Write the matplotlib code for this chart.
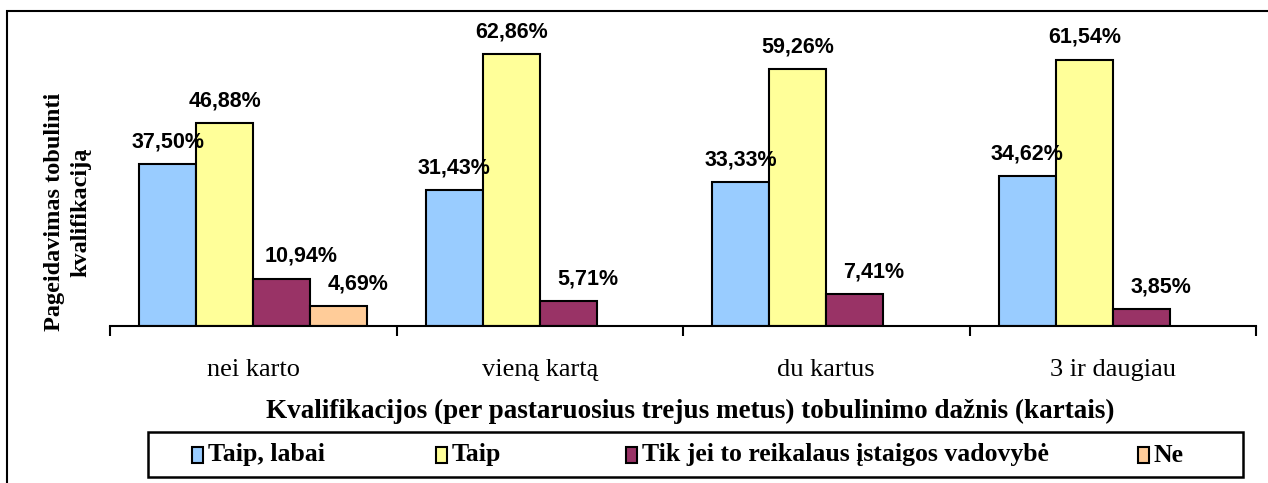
import numpy as np
import matplotlib.pyplot as plt
from matplotlib.patches import Rectangle

CATEGORIES = ["nei karto", "vieną kartą", "du kartus", "3 ir daugiau"]
SERIES = ["Taip, labai", "Taip", "Tik jei to reikalaus įstaigos vadovybė", "Ne"]
taip_labai = [37.50, 31.43, 33.33, 34.62]
taip = [46.88, 62.86, 59.26, 61.54]
tik_jei = [10.94, 5.71, 7.41, 3.85]
ne = [4.69, 0, 0, 0]

COLORS = ["#99CCFF", "#FFFF99", "#993366", "#FFCC99"]
SERIF = "Liberation Serif"
SANS = "Liberation Sans"

W, H = 1268, 483
fig = plt.figure(figsize=(W / 100, H / 100), dpi=100)
ax = fig.add_axes([110 / W, 1 - 326 / H, (1256 - 110) / W, (326 - 23) / H])

x = np.arange(len(CATEGORIES))
bw = 0.1986
values = [taip_labai, taip, tik_jei, ne]
label_dx = [0, 0, 14, 14]  # small-bar labels sit a bit to the right
for i, (name, vals, col) in enumerate(zip(SERIES, values, COLORS)):
    pos = x + (i - 1.5) * bw
    vals = np.array(vals, dtype=float)
    ax.bar(pos, np.where(vals > 0, vals, np.nan), width=bw, color=col,
           edgecolor="black", linewidth=1.5, label=name, zorder=2)
    for p, v in zip(pos, vals):
        if v <= 0:
            continue
        ax.annotate(f"{v:.2f}".replace(".", ",") + "%", (p, v),
                    xytext=(label_dx[i], 12), textcoords="offset points",
                    ha="center", va="baseline", fontsize=15.5,
                    fontweight="bold", family=SANS, zorder=5)

ax.set_xlim(-0.5, 3.5)
ax.set_ylim(0, 70)
for s in ["top", "right", "left"]:
    ax.spines[s].set_visible(False)
ax.spines["bottom"].set_linewidth(1.5)
ax.set_yticks([])
ax.set_xticks(np.arange(-0.5, 4, 1))
ax.set_xticklabels([])
ax.tick_params(axis="x", which="major", length=7, width=1.5, direction="out")
ax.set_xticks(x, minor=True)
ax.set_xticklabels(CATEGORIES, minor=True, family=SERIF, fontsize=19)
ax.tick_params(axis="x", which="minor", length=0, pad=24)

fig.text((268 + 1112) / 2 / W, 1 - 411 / H,
         "Kvalifikacijos (per pastaruosius trejus metus) tobulinimo dažnis (kartais)",
         ha="center", va="center", family=SERIF, fontsize=19.5, fontweight="bold")
fig.text(68 / W, 1 - 212 / H, "Pageidavimas tobulinti\nkvalifikaciją",
         ha="center", va="center", rotation=90, family=SERIF, fontsize=17.5,
         fontweight="bold", linespacing=1.35)

# legend box drawn by hand to match the original spacing
fig.patches.append(Rectangle((148 / W, 1 - 477 / H), (1243 - 148) / W, 45 / H,
                             transform=fig.transFigure, fill=False,
                             edgecolor="black", linewidth=1.8))
marker_x = [192, 436, 626, 1138]
for mx, name, col in zip(marker_x, SERIES, COLORS):
    fig.patches.append(Rectangle((mx / W, 1 - 463 / H), 11 / W, 16 / H,
                                 transform=fig.transFigure, facecolor=col,
                                 edgecolor="black", linewidth=1.5))
    fig.text((mx + 16) / W, 1 - 455 / H, name, ha="left", va="center",
             family=SERIF, fontsize=18.5, fontweight="bold")

fig.patches.append(Rectangle((7 / W, -0.1), 1.2, 1 - 11 / H + 0.1,
                             transform=fig.transFigure, fill=False,
                             edgecolor="black", linewidth=1.5))

fig.savefig("out.png", dpi=100, facecolor="white")
